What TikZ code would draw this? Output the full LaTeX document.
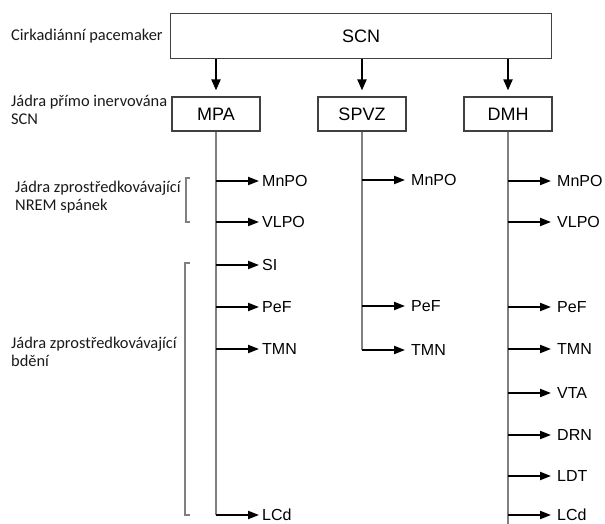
\documentclass[tikz,border=0pt]{standalone}
\usepackage{fontspec}
\setmainfont{Carlito}
\newfontfamily\arialf{Liberation Sans}
\usetikzlibrary{arrows.meta}
\definecolor{boxline}{HTML}{404040}
\definecolor{trunk}{HTML}{808080}
\definecolor{txt}{HTML}{1A1A1A}
\tikzset{
  nbox/.style={draw=boxline, line width=1.2pt, minimum width=88pt, minimum height=34pt, inner sep=0pt, font=\arialf\fontsize{18}{20}\selectfont},
  scnbox/.style={nbox, minimum width=381pt, minimum height=45pt, font=\arialf\fontsize{18}{20}\selectfont},
  downarr/.style={draw=black, line width=2pt, -{Triangle[length=11pt,width=9pt]}},
  trunkline/.style={draw=trunk, line width=1.5pt},
  br/.style={draw=black, line width=2pt, -{Triangle[length=11pt,width=8pt]}},
  lbl/.style={anchor=west, inner sep=0pt, font=\arialf\fontsize{16}{18}\selectfont},
  side/.style={anchor=west, inner sep=0pt, align=left, text=txt, font=\fontsize{16.4}{18.5}\selectfont},
  brk/.style={draw=trunk, line width=1.5pt}
}
\begin{document}
\begin{tikzpicture}[x=1pt,y=-1pt]
\useasboundingbox[fill=white] (0,0) rectangle (605,524);
% boxes
\node[scnbox] (scn) at (361,36) {SCN};
\node[nbox] (mpa) at (216,114) {MPA};
\node[nbox] (spvz) at (362,114) {SPVZ};
\node[nbox] (dmh) at (508,114) {DMH};
% arrows from SCN
\draw[downarr] (mpa.north |- scn.south) -- ([yshift=6pt]mpa.north);
\draw[downarr] (spvz.north |- scn.south) -- ([yshift=6pt]spvz.north);
\draw[downarr] (dmh.north |- scn.south) -- ([yshift=6pt]dmh.north);
% side labels
\node[side] (t1) at (11,36) {Cirkadiánní pacemaker};
\node[side] (t2) at (11,110) {Jádra přímo inervována\\SCN};
\node[side] (t3) at (15,197) {Jádra zprostředkovávající\\NREM spánek};
\node[side] (t4) at (11,352) {Jádra zprostředkovávající\\bdění};
% brackets
\coordinate (b1t) at (190,178);
\coordinate (b1b) at (190,222);
\draw[brk] (b1t) -- ++(-4,0) |- (b1b);
\coordinate (b2t) at (190,263);
\coordinate (b2b) at (190,515);
\draw[brk] (b2t) -- ++(-5,0) |- (b2b);
% MPA column
\node[lbl] (a1) at (262,181) {MnPO};
\node[lbl] (a2) at (262,222) {VLPO};
\node[lbl] (a3) at (262,265) {SI};
\node[lbl] (a4) at (262,307) {PeF};
\node[lbl] (a5) at (262,349) {TMN};
\node[lbl] (a6) at (262,515) {LCd};
\draw[trunkline] (mpa.south) -- (mpa.south |- a6.west);
\foreach \n in {a1,a2,a3,a4,a5,a6}
  \draw[br] (mpa.south |- \n.west) -- ([xshift=-3pt]\n.west);
% SPVZ column
\node[lbl] (s1) at (411,180) {MnPO};
\node[lbl] (s2) at (411,306) {PeF};
\node[lbl] (s3) at (411,350) {TMN};
\draw[trunkline] (spvz.south) -- (spvz.south |- s3.west);
\foreach \n in {s1,s2,s3}
  \draw[br] (spvz.south |- \n.west) -- ([xshift=-6pt]\n.west);
% DMH column
\node[lbl] (d1) at (557,181) {MnPO};
\node[lbl] (d2) at (557,222) {VLPO};
\node[lbl] (d3) at (557,307) {PeF};
\node[lbl] (d4) at (557,349) {TMN};
\node[lbl] (d5) at (557,393) {VTA};
\node[lbl] (d6) at (557,435) {DRN};
\node[lbl] (d7) at (557,476) {LDT};
\node[lbl] (d8) at (557,515) {LCd};
\coordinate (dend) at (508,530);
\draw[trunkline] (dmh.south) -- (dend);
\foreach \n in {d1,d2,d3,d4,d5,d6,d7,d8}
  \draw[br] (dmh.south |- \n.west) -- ([xshift=-6pt]\n.west);
\end{tikzpicture}
\end{document}
